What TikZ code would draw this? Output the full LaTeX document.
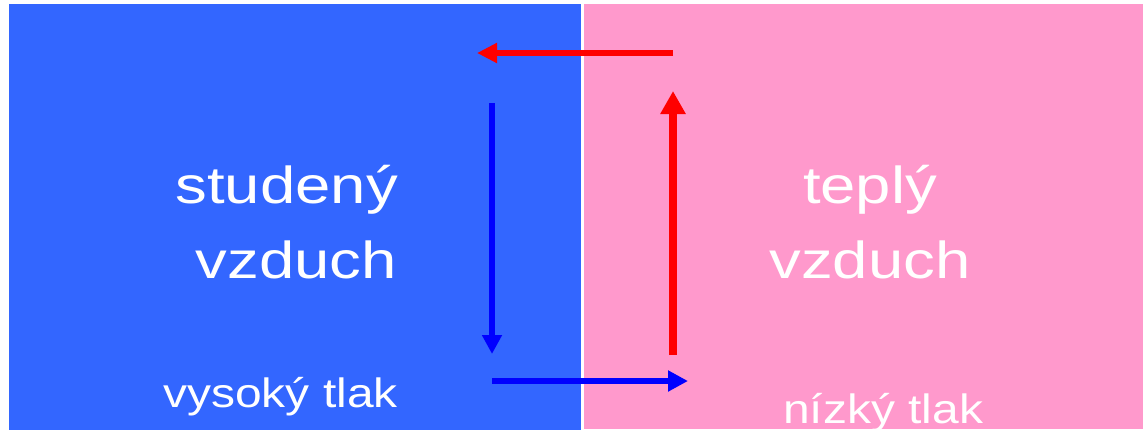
\documentclass[tikz,border=0pt]{standalone}
\usepackage{fontspec}
\setmainfont{Liberation Sans}
\usetikzlibrary{arrows.meta}
\definecolor{coldair}{HTML}{3366FF}
\definecolor{warmair}{HTML}{FF99CC}
\definecolor{flowred}{HTML}{FF0000}
\definecolor{flowblue}{HTML}{0000FF}
% text stretched horizontally
\newcommand{\wx}[2]{\scalebox{#1}[1]{#2}}
\begin{document}
\begin{tikzpicture}[x=1pt,y=-1pt,
  bigtext/.style={inner sep=0pt,text=white,font=\fontsize{52}{60}\selectfont},
  smalltext/.style={inner sep=0pt,text=white,font=\fontsize{41}{48}\selectfont}]
  % page and the two air masses
  \useasboundingbox (0,0) rectangle (1143,432);
  \fill[white] (0,0) rectangle (1143,432);
  \fill[coldair] (8.7,3.7) rectangle (581,430);
  \fill[warmair] (583.6,3.7) rectangle (1143,429);
  % labels
  \node[bigtext,anchor=base east] (cold1) at (398,203) {\wx{1.22}{studený}};
  \node[bigtext,anchor=base east] (cold2) at (397,278) {\wx{1.22}{vzduch}};
  \node[bigtext,anchor=base] (warm1) at (870,203) {\wx{1.22}{teplý}};
  \node[bigtext,anchor=base] (warm2) at (870,278) {\wx{1.22}{vzduch}};
  \node[smalltext,anchor=base west] (high) at (163,407) {\wx{1.17}{vysoký tlak}};
  \node[smalltext,anchor=base west] (low) at (783,423) {\wx{1.17}{nízký tlak}};
  % circulation
  \coordinate (topR) at (673,53);
  \coordinate (topL) at (477,53);
  \coordinate (downA) at (492,103);
  \coordinate (downB) at (492,354);
  \coordinate (botL) at (492,381);
  \coordinate (botR) at (688,381);
  \coordinate (upA) at (673,355);
  \coordinate (upB) at (673,91);
  \draw[flowred,line width=6pt,-{Triangle[length=20pt,width=19pt]}] (topR) -- (topL);
  \draw[flowblue,line width=6.7pt,-{Triangle[length=19pt,width=19pt]}] (downA) -- (downB);
  \draw[flowblue,line width=6.3pt,-{Triangle[length=20pt,width=20pt]}] (botL) -- (botR);
  \draw[flowred,line width=8pt,-{Triangle[length=23pt,width=24pt]}] (upA) -- (upB);
\end{tikzpicture}
\end{document}
